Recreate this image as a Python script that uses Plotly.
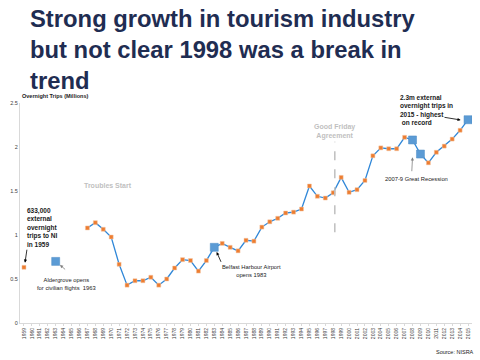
import plotly.graph_objects as go

years = list(range(1959, 2016))
trips = [0.633, None, None, None, None, None, None, None,
         1.08, 1.14, 1.065, 0.977, 0.667, 0.43, 0.48, 0.48, 0.52, 0.43,
         0.50, 0.625, 0.72, 0.71, 0.59, 0.71, 0.86, 0.905, 0.86, 0.82,
         0.94, 0.93, 1.09, 1.15, 1.19, 1.25, 1.26, 1.295, 1.557, 1.44,
         1.42, 1.48, 1.655, 1.485, 1.515, 1.62, 1.90, 1.99, 1.98, 1.98,
         2.11, 2.08, 1.92, 1.82, 1.94, 2.01, 2.09, 2.19, 2.31]
highlight_years = [1963, 1983, 2008, 2009, 2015]
highlight_vals = [0.70, 0.86, 2.08, 1.92, 2.31]
y_ticks = [0, 0.5, 1, 1.5, 2, 2.5]
y_tick_labels = ["0", "0.5", "1", "1.5", "2", "2.5"]

FONT = "Liberation Sans, Arial, sans-serif"

fig = go.Figure()
fig.add_trace(go.Scatter(
    x=years, y=trips, mode="lines+markers", connectgaps=False,
    line=dict(color="#2f87d8", width=1.3),
    marker=dict(symbol="square", size=4, color="#ED7D31",
                line=dict(color="#f4c9a8", width=0.5)),
    hoverinfo="x+y", showlegend=False))
fig.add_trace(go.Scatter(
    x=highlight_years, y=highlight_vals, mode="markers",
    marker=dict(symbol="square", size=8, color="#5B9BD5",
                line=dict(color="#4a8ac4", width=0.5)),
    showlegend=False))

# Good Friday dashed line
fig.add_shape(type="line", x0=1998.2, x1=1998.2, y0=1.03, y1=2.06,
              xref="x", yref="y",
              line=dict(color="#bfbfbf", width=1.5, dash="dash"))

ann = []
def txt(x, y, t, size=6, color="#1a1a1a", bold=False, xanchor="center"):
    if bold:
        t = "<b>" + t + "</b>"
    ann.append(dict(x=x, y=y, xref="x", yref="y", text=t, showarrow=False,
                    xanchor=xanchor, yanchor="middle", align=xanchor if xanchor != "center" else "center",
                    font=dict(family=FONT, size=size, color=color)))

def arrow(tx, ty, hx, hy, color="#000000"):
    ann.append(dict(x=hx, y=hy, ax=tx, ay=ty, xref="x", yref="y",
                    axref="x", ayref="y", text="", showarrow=True,
                    arrowhead=2, arrowsize=0.8, arrowwidth=0.8,
                    arrowcolor=color, standoff=0, startstandoff=0))

txt(1959.1, 1.09, "633,000<br>external<br>overnight<br>trips to NI<br>in 1959",
    size=6.5, bold=True, xanchor="left")
arrow(1959.4, 0.85, 1959.13, 0.685)
txt(1964.4, 0.443, "Aldergrove opens<br>for civilian flights  1963", size=5.8)
arrow(1964.38, 0.594, 1963.54, 0.66, color="#808080")
txt(1987.75, 0.587, "Belfast Harbour Airport<br>opens 1983", size=5.8)
arrow(1983.93, 0.678, 1983.3, 0.807)
txt(2008.5, 1.633, "2007-9 Great Recession", size=5.8)
arrow(2007.9, 1.708, 2008.0, 1.883, color="#808080")
txt(2006.12, 2.415, "2.3m external<br>overnight trips in<br>2015 - highest<br> on record",
    size=6.5, bold=True, xanchor="left")
arrow(2011.84, 2.34, 2014.07, 2.307)
txt(1969.55, 1.56, "Troubles Start", size=7, color="#bfbfbf", bold=True)
txt(1998.2, 2.18, "Good Friday<br>Agreement", size=7, color="#bfbfbf", bold=True)

# plot area: x 20..472 px, y 103..323 px
ann.append(dict(x=0, y=(323 - 96) / 220, xref="paper", yref="paper",
                text="<b>Overnight Trips (Millions)</b>", showarrow=False,
                xanchor="left", yanchor="middle",
                font=dict(family=FONT, size=5.5, color="#1a1a1a")))
ann.append(dict(x=1, y=(323 - 352) / 220, xref="paper", yref="paper",
                text="Source: NISRA", showarrow=False, xanchor="right",
                yanchor="middle", xshift=4,
                font=dict(family=FONT, size=5.5, color="#1a1a1a")))
ann.append(dict(x=(28 - 20) / 452, y=1 + (103 - 3) / 220, xref="paper", yref="paper",
                text="<b>Strong growth in tourism industry<br>but not clear 1998 was a break in<br>trend</b>",
                showarrow=False, xanchor="left", yanchor="top", align="left",
                font=dict(family=FONT, size=23.8, color="#1f2d52")))

fig.update_layout(
    width=480, height=360,
    margin=dict(l=20, r=8, t=103, b=37, autoexpand=False),
    paper_bgcolor="white", plot_bgcolor="white",
    annotations=ann,
    xaxis=dict(range=[1958.5, 2015.5], tickmode="array", tickvals=years,
               ticktext=[str(y) for y in years], tickangle=-90,
               tickfont=dict(family=FONT, size=5, color="#404040"),
               showline=True, linecolor="#d9d9d9", linewidth=1,
               ticks="outside", ticklen=2, tickcolor="#d9d9d9",
               showgrid=False, zeroline=False, fixedrange=True, automargin=False),
    yaxis=dict(range=[0, 2.5], tickmode="array", tickvals=y_ticks,
               ticktext=y_tick_labels,
               tickfont=dict(family=FONT, size=5.5, color="#404040"),
               showline=True, linecolor="#d9d9d9", linewidth=1,
               ticks="", showgrid=False, zeroline=False, fixedrange=True, automargin=False),
)

fig.write_html("out.html", config={"displayModeBar": False},
               post_script="document.body.style.margin='0px';")
